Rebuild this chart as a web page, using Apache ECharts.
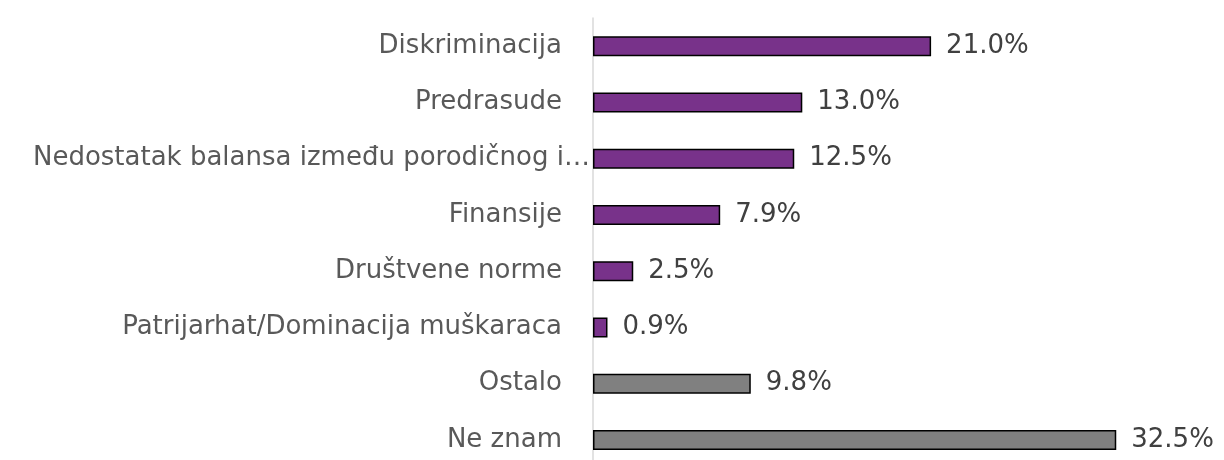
<!DOCTYPE html>
<html><head><meta charset="utf-8">
<script src="https://cdn.jsdelivr.net/npm/echarts@6/dist/echarts.min.js"></script>
<style>html,body{margin:0;padding:0;background:#fff;overflow:hidden}#c{width:1224px;height:468px}</style>
</head><body><div id="c"></div>
<script>
const categories = ["Diskriminacija","Predrasude","Nedostatak balansa između porodičnog i…","Finansije","Društvene norme","Patrijarhat/Dominacija muškaraca","Ostalo","Ne znam"];
const values = [21.0,13.0,12.5,7.9,2.5,0.9,9.8,32.5];
const groups = ["p","p","p","p","p","p","g","g"];
const colors = {p:"#78328A", g:"#808080"};
const FONT = 'DejaVu Sans';
const chart = echarts.init(document.getElementById('c'));
chart.setOption({
  animation:false,
  grid:{left:593, top:18, width:563.5, bottom:0},
  xAxis:{type:'value', min:0, max:35, show:false},
  yAxis:{type:'category', data:categories, inverse:true,
    axisLine:{lineStyle:{color:'#D9D9D9', width:1.5}}, axisTick:{show:false},
    axisLabel:{margin:3, interval:0,
      formatter: v => v.endsWith('…') ? '{t|'+v+'}' : '{n|'+v+'}',
      rich:{
        n:{color:'#595959', fontSize:26, fontFamily:FONT, padding:[0,28,0,0]},
        t:{color:'#595959', fontSize:26, fontFamily:FONT}
      }}},
  series:[{type:'bar', barWidth:20,
    data: values.map((v,i)=>({value:v, itemStyle:{color:colors[groups[i]]}})),
    itemStyle:{borderColor:'#000', borderWidth:1.5},
    label:{show:true, position:'right', distance:15, color:'#404040', fontSize:26, fontFamily:FONT,
      formatter:p=>p.value.toFixed(1)+'%'}
  }]
});
</script></body></html>
